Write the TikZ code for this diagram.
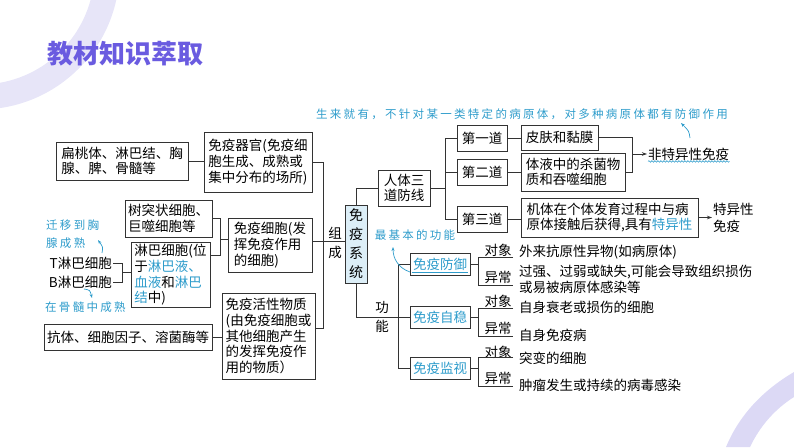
\documentclass[tikz,border=0pt]{standalone}
\usepackage{fontspec}
\setmainfont{Noto Sans CJK SC}
\newfontfamily\annfont{Noto Sans CJK SC}[LetterSpace=20]
\usetikzlibrary{arrows.meta,decorations.pathmorphing}
\definecolor{linec}{HTML}{333333}
\definecolor{bluet}{HTML}{2E9CCB}
\definecolor{titlec}{HTML}{6A5BE0}
\definecolor{arcc}{HTML}{E7E5F8}
\definecolor{arcd}{HTML}{DCD9F5}
\definecolor{sysfill}{HTML}{DCEEF7}
\newcommand{\bt}[1]{\textcolor{bluet}{#1}}
\begin{document}
\begin{tikzpicture}[x=1pt,y=-1pt,
  every node/.style={inner sep=1pt},
  box/.style={draw=linec,line width=0.8pt,inner sep=2pt,align=left,font=\fontsize{13.5}{15.7}\selectfont,text=black},
  txt/.style={font=\fontsize{13.5}{15.7}\selectfont,align=left},
  ann/.style={font=\annfont\fontsize{11.5}{18}\selectfont,text=bluet,align=left},
  conn/.style={draw=linec,line width=0.8pt},
  arr/.style={conn,-{Stealth[length=5pt,width=3.5pt]}},
  annarr/.style={draw=bluet,line width=0.7pt,-{Stealth[length=4pt,width=3pt]}},
  fbox/.style={box,text=bluet,minimum width=60pt,minimum height=22pt}
]
\useasboundingbox (0,0) rectangle (794,447);
\begin{scope}
\clip (0,0) rectangle (794,447);
\coordinate (c1) at (-20,-30);
\draw[arcc,line width=25pt] (c1) circle[radius=127pt];
\fill[arcd] (794,372) .. controls (760,392) and (738,418) .. (726,447) -- (750,447) .. controls (760,426) and (775,409) .. (794,397) -- cycle;
\end{scope}

\node[font=\bfseries\fontsize{26}{26}\selectfont,text=titlec] (title) at (125,54) {教材知识萃取};

% left part
\node[box,minimum width=132pt,minimum height=38pt] (orglist) at (122,161) {扁桃体、淋巴结、胸\\腺、脾、骨髓等};
\node[box,minimum width=108pt,minimum height=60pt] (organ) at (258,162) {免疫器官(免疫细\\胞生成、成熟或\\集中分布的场所)};
\node[box,minimum width=87pt,minimum height=37pt] (dc) at (168.5,218.5) {树突状细胞、\\巨噬细胞等};
\node[box,minimum width=79pt,minimum height=64pt] (lymph) at (170.5,275) {淋巴细胞(位\\于\bt{淋巴液、}\\\bt{血液}和\bt{淋巴}\\\bt{结}中)};
\node[box,minimum width=84pt,minimum height=54pt] (cell) at (270,245) {免疫细胞(发\\挥免疫作用\\的细胞)};
\node[box,minimum width=168pt,minimum height=26pt] (ab) at (128,337) {抗体、细胞因子、溶菌酶等};
\node[box,minimum width=93pt,minimum height=86pt] (active) at (268.5,336) {免疫活性物质\\(由免疫细胞或\\其他细胞产生\\的发挥免疫作\\用的物质）};
\node[txt,anchor=east] (tcell) at (113,263) {T淋巴细胞};
\node[txt,anchor=east] (bcell) at (113,282) {B淋巴细胞};
\node[ann,anchor=west] (annT) at (45,234) {迁移到胸\\腺成熟};
\node[ann,anchor=west] (annB) at (44,307) {在骨髓中成熟};
\node[txt] (zu) at (335,233) {组};
\node[txt] (cheng) at (335,252) {成};

% system
\node[box,fill=sysfill,minimum width=22pt,minimum height=78pt,align=center,font=\fontsize{14}{19}\selectfont] (sys) at (356,244) {免\\疫\\系\\统};

% upper right
\node[box,minimum width=52pt,minimum height=36pt] (three) at (404,188) {人体三\\道防线};
\node[box,minimum width=50pt,minimum height=26pt] (d1) at (482,138) {第一道};
\node[box,minimum width=50pt,minimum height=26pt] (d2) at (482,172) {第二道};
\node[box,minimum width=50pt,minimum height=26pt] (d3) at (482,219.5) {第三道};
\node[box,minimum width=77pt,minimum height=25pt] (skin) at (559.5,137.5) {皮肤和黏膜};
\node[box,minimum width=104pt,minimum height=38pt] (fluid) at (573,172) {体液中的杀菌物\\质和吞噬细胞};
\node[box,minimum width=177pt,minimum height=39pt] (body) at (609.5,217.5) {机体在个体发育过程中与病\\原体接触后获得,具有\bt{特异性}};
\node[txt,anchor=west] (nsi) at (647,154) {非特异性免疫};
\node[txt,anchor=west,font=\fontsize{13.5}{17}\selectfont] (spec) at (712,217.5) {特异性\\免疫};
\node[ann] (annTop) at (522,114) {生来就有，不针对某一类特定的病原体，对多种病原体都有防御作用};

% lower right
\node[fbox] (def) at (440,264) {免疫防御};
\node[fbox] (stab) at (440,317) {免疫自稳};
\node[fbox] (surv) at (440,368.5) {免疫监视};
\node[ann] (annBasic) at (415,235) {最基本的功能};
\node[txt] (gong) at (382,307) {功};
\node[txt] (neng) at (382,326) {能};

\node[txt] (o1) at (498,250) {对象};
\node[txt] (e1) at (498,277) {异常};
\node[txt] (o2) at (498,301) {对象};
\node[txt] (e2) at (498,328) {异常};
\node[txt] (o3) at (498,352) {对象};
\node[txt] (e3) at (498,378) {异常};
\node[txt,anchor=west] (t1) at (518,252) {外来抗原性异物(如病原体)};
\node[txt,anchor=west,font=\fontsize{13.5}{16}\selectfont] (t2) at (518,279) {过强、过弱或缺失,可能会导致组织损伤\\或易被病原体感染等};
\node[txt,anchor=west] (t3) at (518,307) {自身衰老或损伤的细胞};
\node[txt,anchor=west] (t4) at (518,335) {自身免疫病};
\node[txt,anchor=west] (t5) at (518,358) {突变的细胞};
\node[txt,anchor=west] (t6) at (518,385) {肿瘤发生或持续的病毒感染};

% connectors left
\draw[conn] (orglist.east) -- (orglist.east -| organ.west);
\draw[conn] (organ.east) -- (323,162) -- (323,328) -- (active.east |- 0,328);
\draw[conn] (cell.east |- 0,241) -- (sys.west |- 0,241);
\draw[conn] (dc.east) -- (220,218.5) -- (220,255) -- (lymph.east |- 0,255);
\draw[conn] (220,239) -- (cell.west |- 0,239);
\draw[conn] (tcell.east) -- (122,263) -- (122,282) -- (bcell.east);
\draw[conn] (122,272) -- (lymph.west |- 0,272);
\draw[conn] (ab.east) -- (active.west |- ab.east);

% connectors upper right
\draw[conn] (sys.north) |- (three.west);
\draw[conn] (three.east) -- (445,188);
\draw[conn] (d1.west) -- (445,138) -- (445,219.5) -- (d3.west);
\draw[conn] (d2.west) -- (445,172);
\draw[conn] (d1.east) -- (skin.west |- d1.east);
\draw[conn] (d2.east) -- (fluid.west |- d2.east);
\draw[conn] (d3.east) -- (body.west |- d3.east);
\draw[conn] (skin.east) -- (632,137.5) -- (632,172) -- (fluid.east);
\draw[arr] (632,154) -- (nsi.west);
\draw[arr] (body.east) -- (spec.west |- body.east);
\draw[bluet,line width=0.6pt,decorate,decoration={snake,amplitude=0.8pt,segment length=3pt}] ([xshift=1pt]nsi.south west) -- ([xshift=-1pt]nsi.south east);

% connectors lower right
\draw[conn] (sys.south) |- (398,317);
\draw[conn] (def.west) -- (398,264) -- (398,368.5) -- (surv.west);
\draw[conn] (stab.west) -- (398,317);
\foreach \b/\ya/\yb in {def/257/285, stab/308/336, surv/357/386} {
  \draw[conn] (\b.east) -- ++(8,0);
  \draw[conn] (513,\ya) -- (478,\ya) -- (478,\yb) -- (513,\yb);
}
\draw[bluet,line width=0.6pt] ([xshift=2pt,yshift=3pt]def.south west) -- ([xshift=-2pt,yshift=3pt]def.south east);

% annotation arrows
\coordinate (aT) at (102,253);
\coordinate (aB) at (84,289);
\coordinate (aTop) at (690,138);
\coordinate (aBasic) at (410,272);
\draw[annarr] (aT) .. controls (103,247) .. (98,240);
\draw[annarr] (aB) .. controls (90,290) .. (92,298);
\draw[annarr] (aTop) .. controls (689,131) .. (681,123);
\draw[annarr] (aBasic) .. controls (398,268) and (393,258) .. (393,247);
\end{tikzpicture}
\end{document}
